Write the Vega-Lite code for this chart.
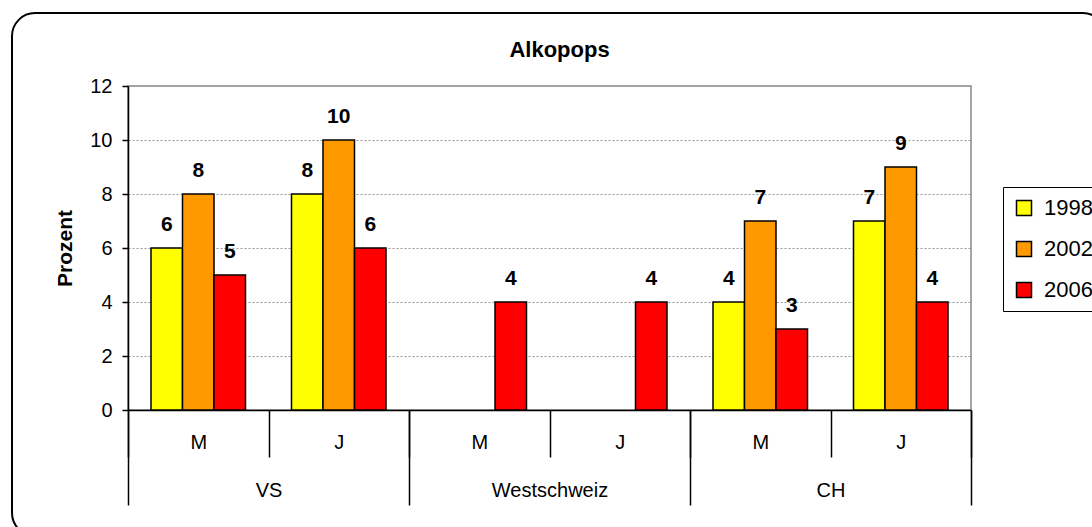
{
  "$schema": "https://vega.github.io/schema/vega-lite/v6.json",
  "width": 843,
  "height": 324,
  "padding": {"left": 11, "top": 12, "right": 0, "bottom": 0},
  "background": "white",
  "config": {
    "font": "Liberation Sans",
    "view": {"stroke": "#888888", "strokeWidth": 1.5}
  },
  "title": {
    "text": "Alkopops",
    "fontSize": 22,
    "fontWeight": "bold",
    "anchor": "middle",
    "baseline": "alphabetic",
    "offset": -67,
    "dx": 10,
    "color": "black"
  },
  "datasets": {
    "bars": [
      {"region": "VS", "sex": "M", "cat": "VS|M", "year": "1998", "value": 6},
      {"region": "VS", "sex": "M", "cat": "VS|M", "year": "2002", "value": 8},
      {"region": "VS", "sex": "M", "cat": "VS|M", "year": "2006", "value": 5},
      {"region": "VS", "sex": "J", "cat": "VS|J", "year": "1998", "value": 8},
      {"region": "VS", "sex": "J", "cat": "VS|J", "year": "2002", "value": 10},
      {"region": "VS", "sex": "J", "cat": "VS|J", "year": "2006", "value": 6},
      {"region": "Westschweiz", "sex": "M", "cat": "Westschweiz|M", "year": "2006", "value": 4},
      {"region": "Westschweiz", "sex": "J", "cat": "Westschweiz|J", "year": "2006", "value": 4},
      {"region": "CH", "sex": "M", "cat": "CH|M", "year": "1998", "value": 4},
      {"region": "CH", "sex": "M", "cat": "CH|M", "year": "2002", "value": 7},
      {"region": "CH", "sex": "M", "cat": "CH|M", "year": "2006", "value": 3},
      {"region": "CH", "sex": "J", "cat": "CH|J", "year": "1998", "value": 7},
      {"region": "CH", "sex": "J", "cat": "CH|J", "year": "2002", "value": 9},
      {"region": "CH", "sex": "J", "cat": "CH|J", "year": "2006", "value": 4}
    ],
    "groups": [
      {"region": "VS"},
      {"region": "Westschweiz"},
      {"region": "CH"}
    ],
    "frame": [{"frame": 1}]
  },
  "layer": [
    {
      "data": {"name": "frame"},
      "mark": {"type": "rect", "filled": false, "stroke": "black", "strokeWidth": 2, "cornerRadius": 23},
      "encoding": {
        "x": {"datum": -0.1376, "type": "quantitative", "scale": {"domain": [0, 1], "nice": false, "zero": false}, "axis": null},
        "x2": {"datum": 1.16},
        "y": {"datum": 14.7, "type": "quantitative", "scale": {"domain": [0, 12], "nice": false}},
        "y2": {"datum": -4.67}
      }
    },
    {
      "data": {"name": "bars"},
      "encoding": {
        "x": {
          "field": "cat",
          "type": "nominal",
          "scale": {
            "domain": ["VS|M", "VS|J", "Westschweiz|M", "Westschweiz|J", "CH|M", "CH|J"],
            "paddingInner": 0,
            "paddingOuter": 0
          },
          "axis": {
            "title": null,
            "orient": "bottom",
            "labelExpr": "split(datum.label, '|')[1]",
            "labelFontSize": 20,
            "labelColor": "black",
            "labelAngle": 0,
            "labelPadding": -25,
            "tickBand": "extent",
            "tickSize": 47,
            "tickColor": "black",
            "tickWidth": 1.5,
            "domainColor": "black",
            "domainWidth": 1.5,
            "grid": false
          }
        },
        "xOffset": {
          "field": "year",
          "type": "nominal",
          "scale": {"domain": ["1998", "2002", "2006"], "paddingInner": 0, "paddingOuter": 0.73}
        },
        "y": {
          "field": "value",
          "type": "quantitative",
          "scale": {"domain": [0, 12], "nice": false},
          "axis": {
            "title": "Prozent",
            "titleFontSize": 21,
            "titleFontWeight": "bold",
            "titleColor": "black",
            "titlePadding": 14,
            "values": [0, 2, 4, 6, 8, 10, 12],
            "labelFontSize": 20,
            "labelColor": "black",
            "labelPadding": 10,
            "tickSize": 6,
            "tickColor": "black",
            "tickWidth": 1.5,
            "domainColor": "black",
            "domainWidth": 1.5,
            "grid": true,
            "gridColor": "#999999",
            "gridDash": [2, 2],
            "gridWidth": 1
          }
        }
      },
      "layer": [
        {
          "mark": {"type": "bar", "stroke": "black", "strokeWidth": 1.5},
          "encoding": {
            "color": {
              "field": "year",
              "type": "nominal",
              "scale": {"domain": ["1998", "2002", "2006"], "range": ["#FFFF00", "#FF9900", "#FF0000"]},
              "legend": {
                "title": null,
                "orient": "none",
                "legendX": 875,
                "legendY": 101,
                "strokeColor": "black",
                "fillColor": "white",
                "padding": 10,
                "symbolType": "square",
                "symbolSize": 225,
                "symbolStrokeColor": "black",
                "symbolStrokeWidth": 1.5,
                "symbolOpacity": 1,
                "labelFontSize": 22,
                "labelColor": "black",
                "labelOffset": 9,
                "rowPadding": 19
              }
            }
          }
        },
        {
          "mark": {"type": "text", "fontSize": 21, "fontWeight": "bold", "baseline": "alphabetic", "dy": -17, "color": "black"},
          "encoding": {
            "text": {"field": "value", "type": "quantitative"}
          }
        }
      ]
    },
    {
      "data": {"name": "groups"},
      "mark": {"type": "point", "opacity": 0},
      "encoding": {
        "x": {
          "field": "region",
          "type": "nominal",
          "scale": {"domain": ["VS", "Westschweiz", "CH"], "paddingInner": 0, "paddingOuter": 0},
          "axis": {
            "title": null,
            "orient": "bottom",
            "labelFontSize": 20,
            "labelColor": "black",
            "labelAngle": 0,
            "labelPadding": -25,
            "tickBand": "extent",
            "tickSize": 95,
            "tickColor": "black",
            "tickWidth": 1.5,
            "domain": false,
            "grid": false
          }
        }
      }
    }
  ],
  "resolve": {"scale": {"x": "independent"}, "axis": {"x": "independent"}}
}
